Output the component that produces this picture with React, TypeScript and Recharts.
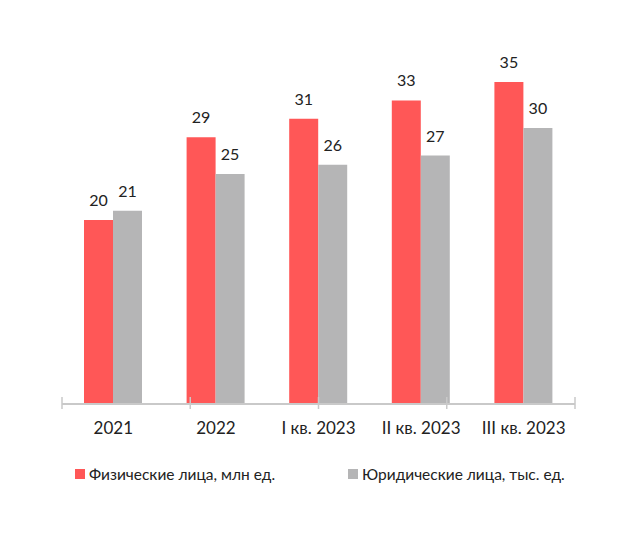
import { Bar, BarChart, LabelList, Legend, XAxis, YAxis } from "recharts";

const periods = ["2021", "2022", "I кв. 2023", "II кв. 2023", "III кв. 2023"];
const individuals = [20, 29, 31, 33, 35];
const legalEntities = [21, 25, 26, 27, 30];
const boundaryTicks = [0, 1, 2, 3, 4, 5];

const RED = "#FF5757";
const GRAY = "#B5B5B6";
const AXIS = "#C9C9C9";
const FONT = "Lato, 'Open Sans', sans-serif";

const data = periods.map((p, i) => ({
  period: p,
  individuals: individuals[i],
  legal: legalEntities[i],
}));

// legend positions are relative to the plot's left edge
const legendItems = [
  { name: "Физические лица, млн ед.", color: RED, left: 13 },
  { name: "Юридические лица, тыс. ед.", color: GRAY, left: 286 },
];

function LegendContent() {
  return (
    <div style={{ position: "relative", height: 30 }}>
      {legendItems.map((it) => (
        <div
          key={it.name}
          style={{
            position: "absolute",
            left: it.left,
            top: 20,
            display: "flex",
            alignItems: "center",
            whiteSpace: "nowrap",
            fontFamily: FONT,
            fontSize: 15.5,
            color: "#222",
            lineHeight: "20px",
          }}
        >
          <span style={{ width: 10, height: 10, background: it.color, marginRight: 4 }} />
          {it.name}
        </div>
      ))}
    </div>
  );
}

function BoundaryTick(props: any) {
  const { x, y } = props;
  return <line x1={x} x2={x} y1={y - 7} y2={y + 5} stroke={AXIS} strokeWidth={1.5} />;
}

export default function App() {
  return (
    <div style={{ position: "absolute", left: 0, top: 0, background: "#fff" }}>
      <BarChart
        width={630}
        height={533}
        data={data}
        margin={{ top: 36, right: 55, left: 62, bottom: 59 }}
        barGap={0}
        barSize={29}
      >
        <XAxis
          xAxisId="bounds"
          type="number"
          domain={[0, 5]}
          allowDataOverflow
          ticks={boundaryTicks}
          axisLine={{ stroke: AXIS, strokeWidth: 2 }}
          tickLine={false}
          tickSize={0}
          tickMargin={0}
          tick={<BoundaryTick />}
          height={1}
          interval={0}
        />
        <XAxis
          xAxisId="cat"
          dataKey="period"
          axisLine={false}
          tickLine={false}
          height={39}
          tickMargin={11}
          tick={{ fill: "#222", fontSize: 17, fontFamily: FONT }}
          interval={0}
        />
        <YAxis hide domain={[0, 40]} />
        <Legend verticalAlign="bottom" content={<LegendContent />} />
        <Bar xAxisId="cat" dataKey="individuals" name="Физические лица, млн ед." fill={RED} isAnimationActive={false}>
          <LabelList
            dataKey="individuals"
            position="top"
            offset={14}
            style={{ fill: "#222", fontSize: 16, fontFamily: FONT }}
          />
        </Bar>
        <Bar xAxisId="cat" dataKey="legal" name="Юридические лица, тыс. ед." fill={GRAY} isAnimationActive={false}>
          <LabelList
            dataKey="legal"
            position="top"
            offset={14}
            style={{ fill: "#222", fontSize: 16, fontFamily: FONT }}
          />
        </Bar>
      </BarChart>
    </div>
  );
}
